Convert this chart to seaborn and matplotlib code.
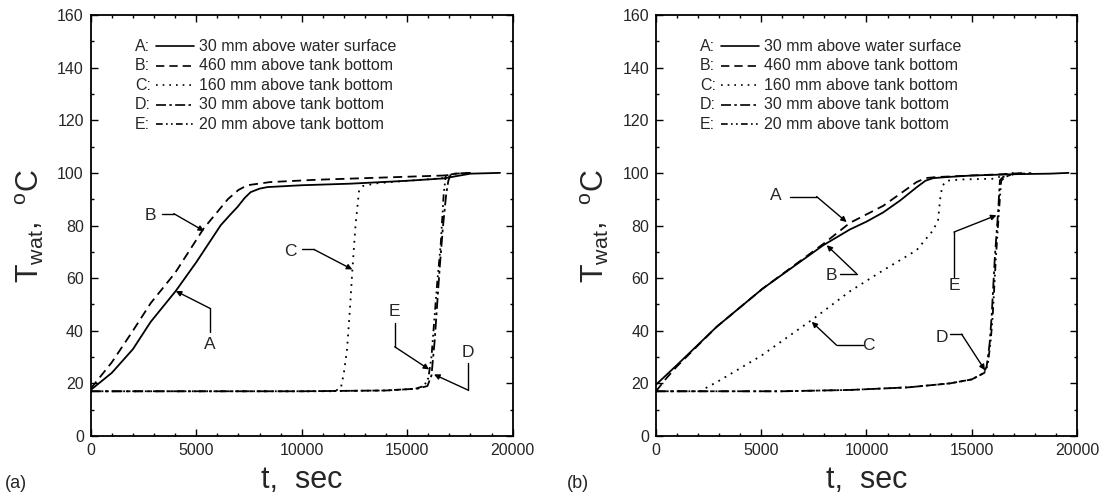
import numpy as np
import pandas as pd
import matplotlib
matplotlib.use("Agg")
import matplotlib.pyplot as plt
from matplotlib.ticker import MultipleLocator
import seaborn as sns

# ---- data ----
probe_letters = ["A", "B", "C", "D", "E"]
probe_names = ["30 mm above water surface", "460 mm above tank bottom",
               "160 mm above tank bottom", "30 mm above tank bottom",
               "20 mm above tank bottom"]

# panel (a)
a_t_A = [0, 1000, 2000, 2844, 4029, 5000, 6162, 6600, 6953, 7300, 7584, 8000, 8375, 10000, 12324, 15000, 16730, 17500, 18000, 19400]
a_T_A = [17.5, 24, 33, 43.4, 55.1, 66, 80.1, 84, 87, 90.5, 92.7, 94, 94.6, 95.3, 95.9, 97, 97.9, 99, 99.7, 100]
a_t_B = [0, 1000, 2000, 2844, 4000, 5356, 6500, 7000, 7427, 8500, 10745, 13000, 16730, 17300, 18000]
a_T_B = [18, 28, 40, 50.5, 62, 78.9, 90, 93.5, 95.3, 96.5, 97.4, 98, 99, 99.7, 100]
a_t_C = [0, 4000, 8000, 11500, 11850, 12000, 12150, 12300, 12400, 12550, 12720, 12900, 13500, 15000, 16730, 17300]
a_T_C = [17, 17, 17, 17, 18, 24, 33, 50, 63, 80, 93.4, 95, 96, 97, 98, 99]
a_t_D = [0, 5000, 10000, 14000, 15500, 15960, 16150, 16300, 16420, 16550, 16700, 16850, 16950, 17064, 17400, 18000]
a_T_D = [17, 17, 17, 17.3, 18, 19, 23, 36, 50, 65, 80, 92, 97, 99.5, 99.8, 100]
a_t_E = [0, 5000, 10000, 14000, 15400, 15800, 16000, 16150, 16260, 16420, 16590, 16730, 16830, 17100]
a_T_E = [17, 17, 17, 17.3, 18, 19, 22, 30, 41.5, 58, 73, 92, 99, 99.5]

# panel (b)
b_t_A = [0, 1000, 2883, 5067, 7948, 9215, 10010, 10800, 11600, 12380, 12800, 13170, 13800, 15000, 17000, 18715, 19600]
b_T_A = [19.5, 27, 41.5, 56, 72.5, 78.5, 81.5, 85, 89.5, 94.5, 97, 98, 98.4, 99, 99.5, 99.7, 100]
b_t_B = [0, 500, 1000, 2883, 5067, 7948, 9215, 10800, 12380, 12800, 13300, 15000, 16500, 17500]
b_T_B = [17, 22, 26.5, 41.5, 56, 73, 81, 87.5, 96.5, 98, 98.4, 99, 99.5, 100]
b_t_C = [0, 2090, 3000, 5000, 7472, 9215, 10800, 12380, 13170, 13400, 13500, 13600, 13800, 14500, 16180, 16500, 17000]
b_T_C = [17, 17, 21, 30.5, 44.5, 55, 63, 70.6, 78.2, 82, 90, 95, 97, 97.5, 97.8, 99.5, 100]
b_t_D = [0, 3000, 6000, 9215, 12000, 13965, 15000, 15547, 15708, 15850, 15946, 16100, 16260, 16340, 16500, 17000, 18000]
b_T_D = [17, 17, 17, 17.5, 18.5, 20, 21.5, 23.8, 26.3, 35, 45.3, 68, 85.8, 97.2, 98.5, 99.5, 100]
b_t_E = [0, 3000, 6000, 9215, 12000, 13965, 15000, 15600, 15760, 15900, 16000, 16150, 16300, 16400, 16600, 17000]
b_T_E = [17, 17, 17, 17.5, 18.5, 20, 21.5, 24, 27, 36, 46, 68, 86, 97, 98.5, 99.5]

# annotations: letter, text position, leader start, leader corner, arrow tip
a_notes = [
    ("A", (5656, 34.9), (5656, 39.5), (5656, 48.5), (4029, 55.1)),
    ("B", (2844, 83.9), (3397, 84.5), (3940, 84.5), (5372, 77.9)),
    ("C", (9450, 70.3), (10030, 70.9), (10580, 70.9), (12400, 63.3)),
    ("E", (14410, 47.2), (14410, 42.9), (14410, 33.9), (16040, 25.3)),
    ("D", (17870, 31.6), (17870, 27.6), (17870, 17.5), (16270, 23.4)),
]
b_notes = [
    ("A", (5700, 91.5), (6365, 91.0), (7630, 91.0), (9060, 81.3)),
    ("B", (8345, 61.1), (8740, 61.7), (9530, 61.7), (8110, 72.5)),
    ("C", (10090, 34.5), (9850, 34.5), (8580, 34.5), (7400, 43.4)),
    ("E", (14155, 57.3), (14155, 60.5), (14155, 77.5), (16180, 83.9)),
    ("D", (13570, 37.5), (13965, 38.7), (14520, 38.7), (15630, 25.0)),
]

styles = ["-", (0, (5, 3)), (0, (1, 3)), (0, (6, 2, 1.5, 2)), (0, (4, 2, 1, 2, 1, 2))]

sns.set_style("ticks")
plt.rcParams["font.family"] = ["Liberation Sans", "DejaVu Sans"]
plt.rcParams["mathtext.fontset"] = "custom"
plt.rcParams["mathtext.rm"] = "Liberation Sans"
plt.rcParams["mathtext.default"] = "regular"


def make_frame(ts, Ts):
    rows = []
    for letter, t, T in zip(probe_letters, ts, Ts):
        rows.append(pd.DataFrame({"t": t, "T": T, "probe": letter}))
    return pd.concat(rows, ignore_index=True)


def draw_panel(ax, df, notes):
    for letter, ls in zip(probe_letters, styles):
        sub = df[df["probe"] == letter]
        sns.lineplot(data=sub, x="t", y="T", ax=ax, color="black", lw=1.3,
                     linestyle=ls, estimator=None, sort=False)
    ax.set_xlim(0, 20000)
    ax.set_ylim(0, 160)
    ax.xaxis.set_major_locator(MultipleLocator(5000))
    ax.xaxis.set_minor_locator(MultipleLocator(1000))
    ax.yaxis.set_major_locator(MultipleLocator(20))
    ax.yaxis.set_minor_locator(MultipleLocator(10))
    ax.tick_params(which="both", direction="in", top=True, right=True,
                   width=1.0, labelsize=11.5, color="black")
    ax.tick_params(which="major", length=5, pad=5)
    ax.tick_params(which="minor", length=2.5)
    for s in ax.spines.values():
        s.set_linewidth(1.3)
        s.set_color("black")
    ax.set_xlabel("t,  sec", fontsize=22, labelpad=5)
    ax.set_ylabel(r"T$_{wat}$,  $^{o}$C", fontsize=22, labelpad=8)

    # hand-drawn style legend
    for i, (letter, name, ls) in enumerate(zip(probe_letters, probe_names, styles)):
        y = 0.926 - i * 0.0465
        ax.text(0.105, y, letter + ":", transform=ax.transAxes, fontsize=11.5,
                va="center", ha="left")
        ax.plot([0.155, 0.245], [y, y], transform=ax.transAxes, color="black",
                lw=1.2, linestyle=ls)
        ax.text(0.256, y, name, transform=ax.transAxes, fontsize=11.5,
                va="center", ha="left")

    for letter, txy, p0, p1, tip in notes:
        ax.text(txy[0], txy[1], letter, fontsize=12.5, ha="center", va="center")
        ax.plot([p0[0], p1[0]], [p0[1], p1[1]], color="black", lw=1.0)
        ax.annotate("", xy=tip, xytext=p1,
                    arrowprops=dict(arrowstyle="-|>", color="black", lw=1.0,
                                    mutation_scale=8, shrinkA=0, shrinkB=0))


df_a = make_frame([a_t_A, a_t_B, a_t_C, a_t_D, a_t_E], [a_T_A, a_T_B, a_T_C, a_T_D, a_T_E])
df_b = make_frame([b_t_A, b_t_B, b_t_C, b_t_D, b_t_E], [b_T_A, b_T_B, b_T_C, b_T_D, b_T_E])

fig = plt.figure(figsize=(11.09, 5.0), dpi=100)
ax_a = fig.add_axes([0.0818, 0.128, 0.3805, 0.842])
ax_b = fig.add_axes([0.5915, 0.128, 0.3796, 0.842])
draw_panel(ax_a, df_a, a_notes)
draw_panel(ax_b, df_b, b_notes)

fig.text(0.004, 0.034, "(a)", fontsize=13, ha="left", va="center")
fig.text(0.511, 0.034, "(b)", fontsize=13, ha="left", va="center")

fig.savefig("out.png", dpi=100, facecolor="white")
